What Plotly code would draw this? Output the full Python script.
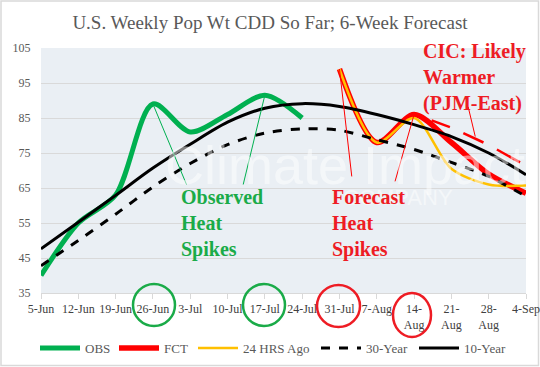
import plotly.graph_objects as go

# ---------------- data ----------------
categories = ['5-Jun', '12-Jun', '19-Jun', '26-Jun', '3-Jul', '10-Jul', '17-Jul',
              '24-Jul', '31-Jul', '7-Aug', '14-Aug', '21-Aug', '28-Aug', '4-Sep']
tick_labels = ['5-Jun', '12-Jun', '19-Jun', '26-Jun', '3-Jul', '10-Jul', '17-Jul',
               '24-Jul', '31-Jul', '7-Aug', '14-<br>Aug', '21-<br>Aug', '28-<br>Aug', '4-Sep']

obs_dates = categories[0:8]
obs_values = [40, 55, 63, 89, 81, 86, 91.5, 85]

fct_dates = categories[8:]
fct_values = [99, 78, 86, 78, 69, 63.5]

ago_dates = categories[8:]
ago_values = [99, 78, 85, 70.5, 66, 65.7]

yr30_values = [42.8, 50, 57.5, 65.3, 72, 77.4, 80.7, 81.9, 81.5, 78.8, 76, 72.3, 68.3, 62.6]
yr10_values = [47.6, 55.2, 62.9, 70.7, 77.5, 83.8, 87.8, 89.1, 88.3, 86, 83.1, 79.7, 75, 68.8]

# ---------------- layout geometry ----------------
W, H = 540, 367
L, R, T, B = 41, 14, 48, 74
PW, PH = W - L - R, H - T - B

def px(x):
    return (x - L) / PW

def py(y):
    return (H - B - y) / PH

GREEN = '#00b050'
RED = '#ff0000'
YELLOW = '#ffc000'
SERIF = 'Liberation Serif'
SMOOTH = 0.85

fig = go.Figure()
fig.add_trace(go.Scatter(x=obs_dates, y=obs_values, name='OBS', mode='lines', legend='legend',
                         line=dict(color=GREEN, width=5, shape='spline', smoothing=SMOOTH)))
fig.add_trace(go.Scatter(x=fct_dates, y=fct_values, name='FCT', mode='lines', legend='legend2',
                         line=dict(color=RED, width=5.5, shape='spline', smoothing=SMOOTH)))
fig.add_trace(go.Scatter(x=ago_dates, y=ago_values, name='24 HRS Ago', mode='lines', legend='legend3',
                         line=dict(color=YELLOW, width=2.5, shape='spline', smoothing=SMOOTH)))
fig.add_trace(go.Scatter(x=categories, y=yr30_values, name='30-Year', mode='lines', legend='legend4',
                         line=dict(color='black', width=3, dash='dash', shape='spline', smoothing=SMOOTH)))
fig.add_trace(go.Scatter(x=categories, y=yr10_values, name='10-Year', mode='lines', legend='legend5',
                         line=dict(color='black', width=3, shape='spline', smoothing=SMOOTH)))

shapes = []
# outer border of chart
shapes.append(dict(type='rect', xref='paper', yref='paper',
                   x0=px(1), x1=px(W - 1.5), y0=py(H - 1.5), y1=py(1),
                   line=dict(color='#d9d9d9', width=1.5), layer='below'))

# leader lines (data coordinates; category index on x)
def seg(x0, y0, x1, y1, color, width):
    return dict(type='line', xref='x', yref='y', x0=x0, y0=y0, x1=x1, y1=y1,
                line=dict(color=color, width=width), layer='above')

shapes.append(seg(3, obs_values[3], 3.9, 66, GREEN, 1))
shapes.append(seg(6, obs_values[6], 5.42, 66, GREEN, 1))
shapes.append(seg(8, fct_values[0], 8.33, 68.3, RED, 1))
shapes.append(seg(10, fct_values[2], 9.49, 66.9, RED, 1))
shapes.append(seg(11.45, 88.2, 11.64, 79.7, RED, 1))
# red "warmer" dashes
shapes.append(seg(10.47, 84.3, 10.96, 82.4, RED, 2.5))
shapes.append(seg(11.32, 80.7, 11.86, 78.0, RED, 2.5))
shapes.append(seg(12.22, 76.0, 12.84, 72.3, RED, 2.5))

# circles around tick labels (pixel positions converted to paper)
def circ(x0, y0, x1, y1, color):
    return dict(type='circle', xref='paper', yref='paper',
                x0=px(x0), x1=px(x1), y0=py(y1), y1=py(y0),
                line=dict(color=color, width=2.5))

shapes.append(circ(133, 284, 175, 326, '#1aab48'))
shapes.append(circ(243, 284, 285, 326, '#1aab48'))
shapes.append(circ(317, 285, 360, 327, '#ee1c24'))
shapes.append(circ(393, 293, 431, 337, '#ee1c24'))

annotations = []
# watermark
annotations.append(dict(text='Climate Impact', xref='paper', yref='paper',
                        x=px(345), y=py(165), showarrow=False,
                        font=dict(family='Liberation Sans', size=54, color='#ffffff'),
                        opacity=0.5))
annotations.append(dict(text='COMPANY', xref='paper', yref='paper',
                        x=px(455), y=py(212), showarrow=False,
                        font=dict(family='Liberation Sans', size=22, color='#ffffff'),
                        opacity=0.5))
annotations.append(dict(text='Observed<br>Heat<br>Spikes', xref='paper', yref='paper',
                        x=px(179), y=py(184), xanchor='left', yanchor='top', align='left',
                        showarrow=False,
                        font=dict(family=SERIF, size=20, color='#1aab48', weight='bold')))
annotations.append(dict(text='Forecast<br>Heat<br>Spikes', xref='paper', yref='paper',
                        x=px(330), y=py(184), xanchor='left', yanchor='top', align='left',
                        showarrow=False,
                        font=dict(family=SERIF, size=20, color='#ee1c24', weight='bold')))
annotations.append(dict(text='CIC: Likely<br>Warmer<br>(PJM-East)', xref='paper', yref='paper',
                        x=px(421), y=py(38), xanchor='left', yanchor='top', align='left',
                        showarrow=False,
                        font=dict(family=SERIF, size=20, color='#ee1c24', weight='bold')))

# one legend per entry so each can sit where the reference puts it
legend_starts = [42, 121, 200, 323, 421]
LEG_OFFSET = 7

def leg(xpix):
    return dict(orientation='h', x=px(xpix - LEG_OFFSET), y=py(348),
                xanchor='left', yanchor='middle',
                font=dict(family=SERIF, size=13, color='#595959'),
                itemwidth=40, bgcolor='rgba(0,0,0,0)')

fig.update_layout(
    width=W, height=H,
    margin=dict(l=L, r=R, t=T, b=B, autoexpand=False),
    paper_bgcolor='white',
    plot_bgcolor='#eaeff4',
    title=dict(text='U.S. Weekly Pop Wt CDD So Far; 6-Week Forecast',
               x=0.5, xanchor='center', y=1 - 22 / H, yanchor='middle',
               font=dict(family=SERIF, size=19, color='#595959')),
    font=dict(family=SERIF, size=12, color='#595959'),
    showlegend=True,
    legend=leg(legend_starts[0]),
    legend2=leg(legend_starts[1]),
    legend3=leg(legend_starts[2]),
    legend4=leg(legend_starts[3]),
    legend5=leg(legend_starts[4]),
    shapes=shapes,
    annotations=annotations,
)
fig.update_xaxes(type='category', categoryorder='array', categoryarray=categories,
                 range=[0, len(categories) - 1], automargin=False,
                 tickmode='array', tickvals=categories, ticktext=tick_labels,
                 showgrid=False, zeroline=False,
                 showline=True, linecolor='#d9d9d9', linewidth=1,
                 ticks='outside', ticklen=5, tickcolor='#d9d9d9',
                 tickfont=dict(family=SERIF, size=12, color='#404040'),
                 tickangle=0)
fig.update_yaxes(range=[35, 105], dtick=10, tick0=35, automargin=False,
                 showgrid=True, gridcolor='#d9d9d9', gridwidth=1,
                 zeroline=False, showline=False,
                 ticks='outside', ticklen=7, tickcolor='rgba(0,0,0,0)',
                 tickfont=dict(family=SERIF, size=12, color='#595959'))

fig.write_html('out.html',
               config={'displayModeBar': False},
               post_script="document.body.style.margin='0';document.body.style.overflow='hidden';")
